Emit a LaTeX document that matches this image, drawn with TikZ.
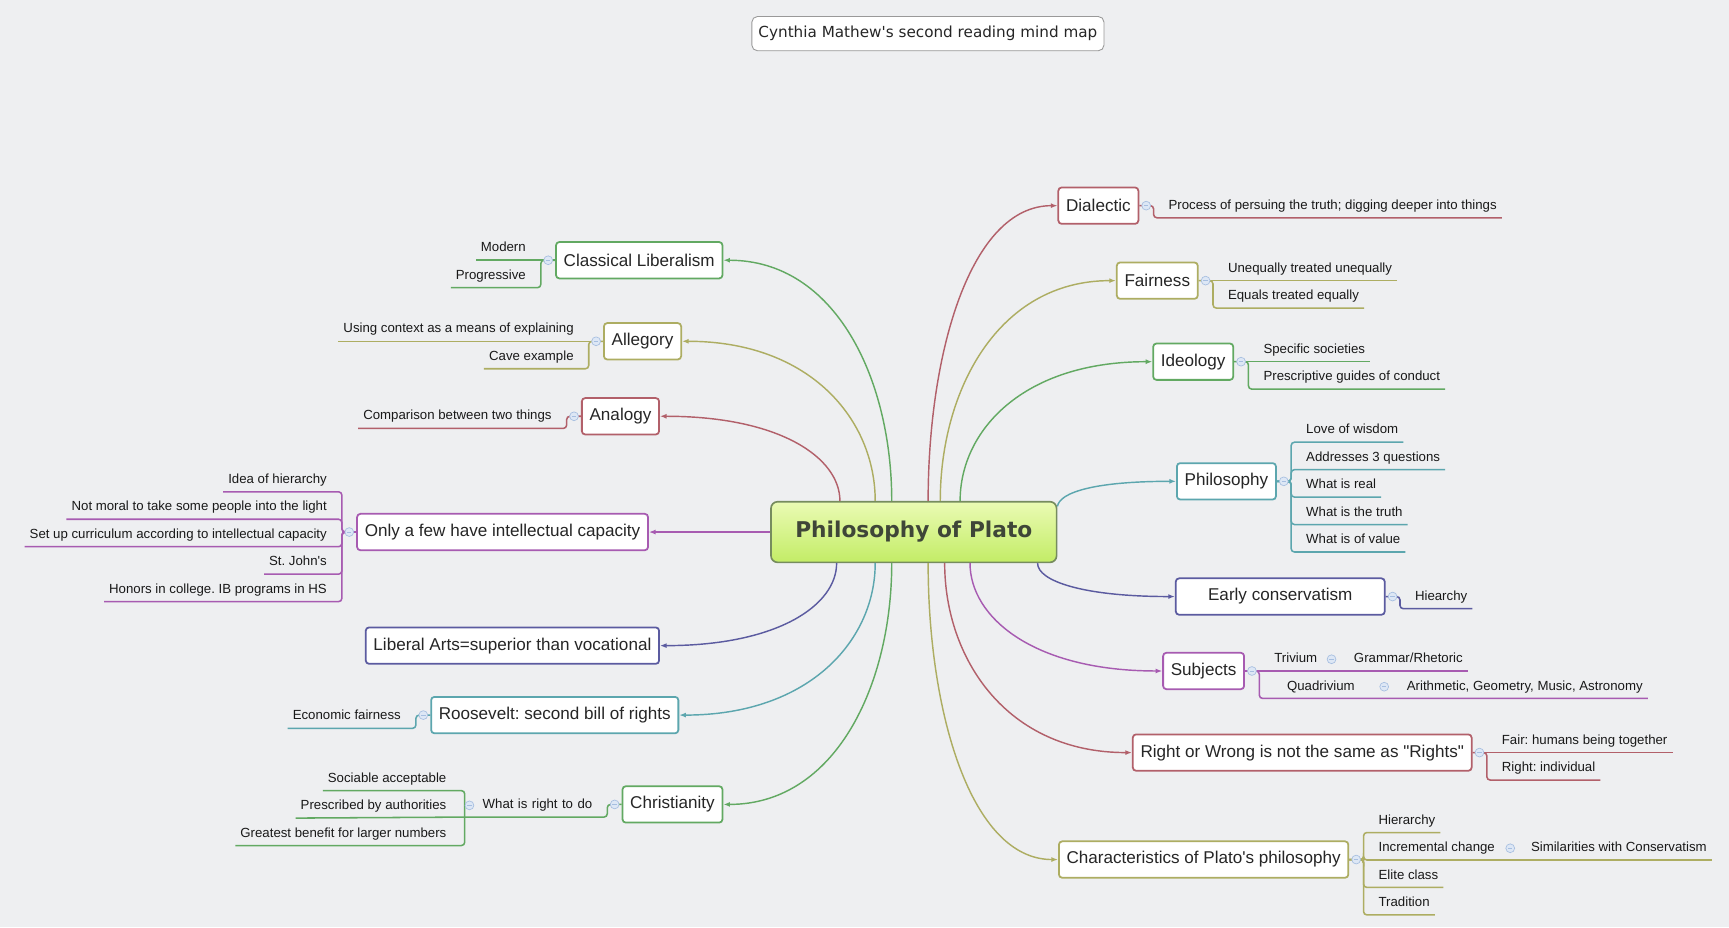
\documentclass[tikz,border=0pt]{standalone}
\usepackage{fontspec}
\newfontfamily\tfont{Liberation Sans}
\newfontfamily\vfont{DejaVu Sans}
\usetikzlibrary{positioning, arrows.meta}

\definecolor{bgcol}{HTML}{EEEFF1}
\definecolor{cred}{HTML}{B2606A}
\definecolor{colive}{HTML}{ADAD62}
\definecolor{cgreen}{HTML}{62A962}
\definecolor{cpurple}{HTML}{A75BB1}
\definecolor{cteal}{HTML}{5CA6AE}
\definecolor{cindigo}{HTML}{5B5BA0}
\definecolor{rootA}{HTML}{EAFBB4}
\definecolor{rootB}{HTML}{C3EC66}
\definecolor{rootline}{HTML}{768C5E}
\definecolor{roottext}{HTML}{3F4638}
\definecolor{btnfill}{HTML}{DDE7F5}
\definecolor{btnline}{HTML}{A6BEE0}

\begin{document}
\frenchspacing
\begin{tikzpicture}[
    x=1pt, y=-1pt,
    line width=1.3pt,
    topic/.style={draw, fill=white, rounded corners=3pt, line width=1.6pt, minimum height=33pt, inner xsep=7pt, text=black!85, font=\tfont\fontsize{15.5}{18}\selectfont},
    lleaf/.style={anchor=south east, inner xsep=4pt, inner ysep=4pt, text height=9pt, text depth=3pt, text=black!90, font=\tfont\fontsize{12}{14}\selectfont},
    rleaf/.style={lleaf, anchor=south west},
    lnext/.style={below=3.6pt of #1.south east, anchor=north east},
    rnext/.style={below=3.6pt of #1.south west, anchor=north west},
    link/.style={-{Latex[length=6pt, width=4.5pt]}, line width=1.3pt},
    under/.style={rounded corners=3pt, line width=1.4pt},
    btn/.style={circle, draw=btnline, fill=btnfill, line width=0.6pt, minimum size=8pt, inner sep=0pt,
        path picture={\draw[btnline, line width=0.8pt] ([xshift=-2pt]path picture bounding box.center) -- ([xshift=2pt]path picture bounding box.center);}}
]
    \path[fill=bgcol, use as bounding box] (0,0) rectangle (1568,841);

    \node[draw=gray!80, fill=white, rounded corners=5pt, line width=0.8pt, minimum height=31pt, inner xsep=6pt, text=black!85, font=\vfont\fontsize{13.8}{16}\selectfont] (title) at (841.5,30.5) {Cynthia Mathew's second reading mind map};

    \node[draw=rootline, line width=1.5pt, rounded corners=6pt, top color=rootA, bottom color=rootB, minimum width=259pt, minimum height=55pt, text=roottext, font=\vfont\bfseries\fontsize{19.7}{22}\selectfont] (root) at (828.7,482.5) {Philosophy of Plato};

    % left branches
    \node[topic, draw=cgreen, anchor=east] (cl) at (656,236) {Classical Liberalism};
    \node[topic, draw=colive, anchor=east] (alg) at (618.5,309.5) {Allegory};
    \node[topic, draw=cred, anchor=east] (ana) at (598.5,377.5) {Analogy};
    \node[topic, draw=cpurple, anchor=east] (few) at (588.5,482.5) {Only a few have intellectual capacity};
    \node[topic, draw=cindigo, anchor=east] (lib) at (598.5,585.5) {Liberal Arts=superior than vocational};
    \node[topic, draw=cteal, anchor=east] (roo) at (616,648.5) {Roosevelt: second bill of rights};
    \node[topic, draw=cgreen, anchor=east] (chr) at (656,729.5) {Christianity};

    % right branches
    \node[topic, draw=cred, anchor=west] (dia) at (959,186.5) {Dialectic};
    \node[topic, draw=colive, anchor=west] (fai) at (1012,254.5) {Fairness};
    \node[topic, draw=cgreen, anchor=west] (ide) at (1045,328) {Ideology};
    \node[topic, draw=cteal, anchor=west] (phi) at (1066.5,436.5) {Philosophy};
    \node[topic, draw=cindigo, anchor=west, minimum width=189.5pt] (ear) at (1065.5,541) {Early conservatism};
    \node[topic, draw=cpurple, anchor=west] (sub) at (1054,608.5) {Subjects};
    \node[topic, draw=cred, anchor=west] (rig) at (1026.5,682.5) {Right or Wrong is not the same as "Rights"};
    \node[topic, draw=colive, anchor=west] (cha) at (959.5,779.5) {Characteristics of Plato's philosophy};

    % left leaves
    \node[lleaf, left=22pt of cl.west, anchor=south east] (cl1) {Modern};
    \node[lleaf, lnext=cl1] (cl2) {Progressive};
    \node[lleaf, left=22pt of alg.west, anchor=south east] (alg1) {Using context as a means of explaining};
    \node[lleaf, lnext=alg1] (alg2) {Cave example};
    \node[lleaf, left=22pt of ana.west, anchor=south east, yshift=-11pt] (ana1) {Comparison between two things};
    \node[lleaf, left=22pt of few.west, anchor=south east, yshift=36.5pt] (few1) {Idea of hierarchy};
    \node[lleaf, lnext=few1] (few2) {Not moral to take some people into the light};
    \node[lleaf, lnext=few2] (few3) {Set up curriculum according to intellectual capacity};
    \node[lleaf, lnext=few3] (few4) {St. John's};
    \node[lleaf, lnext=few4] (few5) {Honors in college. IB programs in HS};
    \node[lleaf, left=22pt of roo.west, anchor=south east, yshift=-12pt] (roo1) {Economic fairness};
    \node[lleaf, left=22pt of chr.west, anchor=south east, yshift=-11.5pt, text width=111pt, align=right] (what) {What is right to do};
    \node[lleaf, left=12pt of what.south west, anchor=south east, yshift=24pt] (wr1) {Sociable acceptable};
    \node[lleaf, lnext=wr1] (wr2) {Prescribed by authorities};
    \node[lleaf, lnext=wr2] (wr3) {Greatest benefit for larger numbers};

    % right leaves
    \node[rleaf, right=22pt of dia.east, anchor=south west, yshift=-11pt] (dia1) {Process of persuing the truth; digging deeper into things};
    \node[rleaf, right=22pt of fai.east, anchor=south west] (fai1) {Unequally treated unequally};
    \node[rleaf, rnext=fai1] (fai2) {Equals treated equally};
    \node[rleaf, right=22pt of ide.east, anchor=south west] (ide1) {Specific societies};
    \node[rleaf, rnext=ide1] (ide2) {Prescriptive guides of conduct};
    \node[rleaf, right=22pt of phi.east, anchor=south west, yshift=35.5pt] (phi1) {Love of wisdom};
    \node[rleaf, rnext=phi1] (phi2) {Addresses 3 questions};
    \node[rleaf, rnext=phi2] (phi3) {What is real};
    \node[rleaf, rnext=phi3] (phi4) {What is the truth};
    \node[rleaf, rnext=phi4] (phi5) {What is of value};
    \node[rleaf, right=22pt of ear.east, anchor=south west, yshift=-11pt] (ear1) {Hiearchy};
    \node[rleaf, right=22pt of sub.east, anchor=south west] (triv) {Trivium};
    \node[rleaf, right=24pt of triv.south east, anchor=south west] (gram) {Grammar/Rhetoric};
    \node[rleaf, rnext=triv, xshift=11.5pt] (quad) {Quadrivium};
    \node[rleaf, right=38pt of quad.south east, anchor=south west] (arith) {Arithmetic, Geometry, Music, Astronomy};
    \node[rleaf, right=22pt of rig.east, anchor=south west] (rig1) {Fair: humans being together};
    \node[rleaf, rnext=rig1] (rig2) {Right: individual};
    \node[rleaf, right=22pt of cha.east, anchor=south west, yshift=24.5pt] (cha1) {Hierarchy};
    \node[rleaf, rnext=cha1] (cha2) {Incremental change};
    \node[rleaf, right=23.5pt of cha2.south east, anchor=south west] (sim) {Similarities with Conservatism};
    \node[rleaf, rnext=cha2] (cha3) {Elite class};
    \node[rleaf, rnext=cha3] (cha4) {Tradition};

    % links from the central topic
    \draw[link, cred] ([xshift=-67pt]root.north) .. controls +(0,-39) and +(109,0) .. (ana.east);
    \draw[link, colive] ([xshift=-35pt]root.north) .. controls +(0,-73) and +(117,0) .. (alg.east);
    \draw[link, cgreen] ([xshift=-20pt]root.north) .. controls +(0,-110) and +(102,0) .. (cl.east);
    \draw[link, cred] ([xshift=13pt]root.north) .. controls +(0,-134) and +(-79,0) .. (dia.west);
    \draw[link, colive] ([xshift=24pt]root.north) .. controls +(0,-100) and +(-107,0) .. (fai.west);
    \draw[link, cgreen] ([xshift=42pt]root.north) .. controls +(0,-64) and +(-117,0) .. (ide.west);
    \draw[link, cteal] ([yshift=-5pt]root.north east) .. controls +(2,-13) and +(-73,0) .. (phi.west);
    \draw[link, cpurple] (root.west |- few.east) -- (few.east);
    \draw[link, cindigo] ([xshift=-70pt]root.south) .. controls +(0,38) and +(107,0) .. (lib.east);
    \draw[link, cteal] ([xshift=-35pt]root.south) .. controls +(0,69) and +(119,0) .. (roo.east);
    \draw[link, cgreen] ([xshift=-20pt]root.south) .. controls +(0,110) and +(102,0) .. (chr.east);
    \draw[link, colive] ([xshift=13pt]root.south) .. controls +(0,135) and +(-79,0) .. (cha.west);
    \draw[link, cred] ([xshift=28pt]root.south) .. controls +(0,86) and +(-114,0) .. (rig.west);
    \draw[link, cpurple] ([xshift=51pt]root.south) .. controls +(0,49) and +(-117,0) .. (sub.west);
    \draw[link, cindigo] ([xshift=-18pt]root.south east) .. controls +(0,16) and +(-84,0) .. (ear.west);

    % left leaf lines
    \draw[under, cgreen] (cl.west) -- (cl1.south west);
    \draw[under, cgreen] (cl.west) -- ++(-13,0) |- (cl2.south east) -- (cl2.south west);
    \draw[under, colive] (alg.west) -- (alg1.south west);
    \draw[under, colive] (alg.west) -- ++(-13,0) |- (alg2.south east) -- (alg2.south west);
    \draw[under, cred] (ana.west) -- ++(-13,0) |- (ana1.south east) -- (ana1.south west);
    \draw[under, cpurple] (few.west) -- ++(-13,0) |- (few1.south east) -- (few1.south west);
    \draw[under, cpurple] (few.west) -- ++(-13,0) |- (few2.south east) -- (few2.south west);
    \draw[under, cpurple] (few.west) -- ++(-13,0) |- (few3.south east) -- (few3.south west);
    \draw[under, cpurple] (few.west) -- ++(-13,0) |- (few4.south east) -- (few4.south west);
    \draw[under, cpurple] (few.west) -- ++(-13,0) |- (few5.south east) -- (few5.south west);
    \draw[under, cteal] (roo.west) -- ++(-13,0) |- (roo1.south east) -- (roo1.south west);
    \draw[under, cgreen] (chr.west) -- ++(-13,0) |- (what.south east) -- (what.south west);
    \draw[under, cgreen] (what.south west) |- (wr1.south east) -- (wr1.south west);
    \draw[under, cgreen] (what.south west) -- (wr2.south west);
    \draw[under, cgreen] (what.south west) |- (wr3.south east) -- (wr3.south west);

    % right leaf lines
    \draw[under, cred] (dia.east) -- ++(13,0) |- (dia1.south west) -- (dia1.south east);
    \draw[under, colive] (fai.east) -- (fai1.south east);
    \draw[under, colive] (fai.east) -- ++(13,0) |- (fai2.south west) -- (fai2.south east);
    \draw[under, cgreen] (ide.east) -- (ide1.south east);
    \draw[under, cgreen] (ide.east) -- ++(13,0) |- (ide2.south west) -- (ide2.south east);
    \draw[under, cteal] (phi.east) -- ++(13,0) |- (phi1.south west) -- (phi1.south east);
    \draw[under, cteal] (phi.east) -- ++(13,0) |- (phi2.south west) -- (phi2.south east);
    \draw[under, cteal] (phi.east) -- ++(13,0) |- (phi3.south west) -- (phi3.south east);
    \draw[under, cteal] (phi.east) -- ++(13,0) |- (phi4.south west) -- (phi4.south east);
    \draw[under, cteal] (phi.east) -- ++(13,0) |- (phi5.south west) -- (phi5.south east);
    \draw[under, cindigo] (ear.east) -- ++(13,0) |- (ear1.south west) -- (ear1.south east);
    \draw[under, cpurple] (sub.east) -- (triv.south west) -- (gram.south east);
    \draw[under, cpurple] (sub.east) -- ++(13,0) |- (quad.south west) -- (arith.south east);
    \draw[under, cred] (rig.east) -- (rig1.south east);
    \draw[under, cred] (rig.east) -- ++(13,0) |- (rig2.south west) -- (rig2.south east);
    \draw[under, colive] (cha.east) -- ++(13,0) |- (cha1.south west) -- (cha1.south east);
    \draw[under, colive] (cha.east) -- ++(13,0) |- (cha2.south west) -- (sim.south east);
    \draw[under, colive] (cha.east) -- ++(13,0) |- (cha3.south west) -- (cha3.south east);
    \draw[under, colive] (cha.east) -- ++(13,0) |- (cha4.south west) -- (cha4.south east);

    % collapse buttons
    \node[btn, left=2pt of cl] (cl-b) {};
    \node[btn, left=2pt of alg] (alg-b) {};
    \node[btn, left=2pt of ana] (ana-b) {};
    \node[btn, left=2pt of few] (few-b) {};
    \node[btn, left=2pt of roo] (roo-b) {};
    \node[btn, left=2pt of chr] (chr-b) {};
    \node[btn, right=0pt of what.west] (what-b) {};
    \node[btn, right=2pt of dia] (dia-b) {};
    \node[btn, right=2pt of fai] (fai-b) {};
    \node[btn, right=2pt of ide] (ide-b) {};
    \node[btn, right=2pt of phi] (phi-b) {};
    \node[btn, right=2pt of ear] (ear-b) {};
    \node[btn, right=2pt of sub] (sub-b) {};
    \node[btn, right=4pt of triv] (triv-b) {};
    \node[btn, right=17.8pt of quad] (quad-b) {};
    \node[btn, right=2pt of rig] (rig-b) {};
    \node[btn, right=2pt of cha] (cha-b) {};
    \node[btn, right=5pt of cha2] (cha2-b) {};
\end{tikzpicture}
\end{document}
